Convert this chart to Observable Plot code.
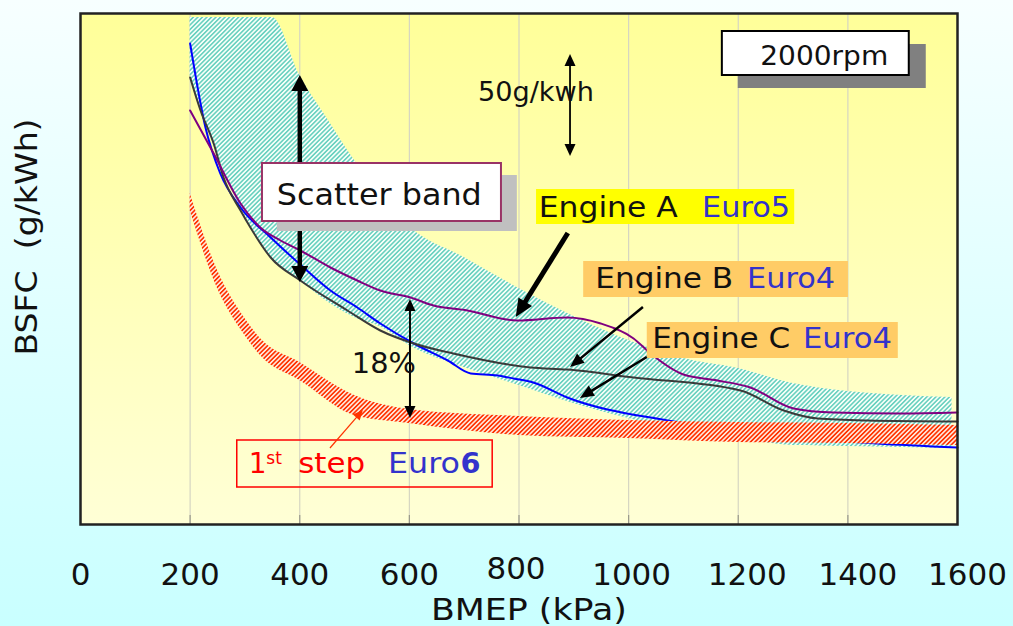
<!DOCTYPE html>
<html>
<head>
<meta charset="utf-8">
<script src="https://cdn.jsdelivr.net/npm/d3@7"></script>
<script src="https://cdn.jsdelivr.net/npm/@observablehq/plot@0.6"></script>
<style>
  html, body { margin: 0; padding: 0; width: 1013px; height: 626px; overflow: hidden;
    background: linear-gradient(to bottom, #F7FFFF, #C9FFFF); }
  #chart svg { display: block; }
</style>
</head>
<body>
<div id="chart"></div>
<script>
// ---------------- data (BMEP in kPa, BSFC in g/kWh) ----------------
const xTicks = [0, 200, 400, 600, 800, 1000, 1200, 1400, 1600];
const gridBmep = [200, 400, 600, 800, 1000, 1200, 1400];

// scatter band (teal hatch)
const bandBmep = [200, 250, 300, 350, 400, 450, 500, 550, 600, 700, 800, 900, 1000, 1100, 1200, 1300, 1400, 1500, 1590];
const bandLow  = [404.5, 364.5, 334.5, 313, 302, 291.5, 283.5, 278.5, 269.5, 258.5, 249.5, 240.5, 233, 227, 223, 219.5, 219, 218.5, 218];
const bandHigh = [433.5, 433.5, 433.5, 433.5, 404.5, 383, 362, 344.5, 329, 313.5, 298, 284, 272, 263, 258, 250.5, 246.5, 244.5, 243.5];

// 1st step Euro6 target band (red hatch)
const euro6Bmep = [200, 250, 300, 330, 400, 500, 600, 800, 1000, 1200, 1400, 1600];
const euro6High = [345.5, 307, 283, 272.5, 261, 244.5, 237.5, 234, 232, 231, 230.5, 229.5];
const euro6Low  = [337, 298, 274.5, 264, 252, 234.5, 230.5, 224.5, 223, 221, 220.5, 219.5];

// Engine A (Euro5) - purple
const engineABmep = [200, 243, 292, 328, 365, 401, 456, 505, 547, 602, 644, 706, 797, 888, 949, 1009, 1040, 1100, 1162, 1222, 1301, 1374, 1496, 1600];
const engineABsfc = [387, 365.5, 340.5, 328.5, 322, 317, 308.5, 302, 297, 293.5, 289.5, 287, 282, 283.5, 280.5, 273, 265.5, 255, 252, 248.5, 238, 236, 235.5, 236];

// Engine B (Euro4) - dark grey
const engineBBmep = [200, 219, 243, 261, 292, 310, 347, 401, 487, 547, 608, 680, 821, 888, 1009, 1204, 1283, 1345, 1436, 1600];
const engineBBsfc = [403.5, 387, 370.5, 353.5, 337, 328.5, 313.5, 302, 287, 277, 270.5, 265.5, 258.5, 257.5, 253.5, 247, 237, 233, 232, 231.5];

// Engine C (Euro4) - blue
const engineCBmep = [200, 228, 255, 292, 347, 407, 456, 505, 547, 608, 670, 712, 761, 790, 826, 888, 1071, 1277, 1454, 1600];
const engineCBsfc = [420.5, 378.5, 355.5, 338.5, 323.5, 308.5, 297, 288.5, 280.5, 270.5, 262, 255.5, 254.5, 253, 251, 243.5, 232, 224.5, 220.5, 218.5];

// ---------------- tables built from the arrays ----------------
const bandRows = bandBmep.map((b, i) => ({bmep: b, lo: bandLow[i], hi: bandHigh[i]}));
const euro6Rows = euro6Bmep.map((b, i) => ({bmep: b, lo: euro6Low[i], hi: euro6High[i]}));
const rows = (xs, ys) => xs.map((b, i) => ({bmep: b, bsfc: ys[i]}));
const engineA = rows(engineABmep, engineABsfc);
const engineB = rows(engineBBmep, engineBBsfc);
const engineC = rows(engineCBmep, engineCBsfc);

const FONT = "DejaVu Sans, Verdana, sans-serif";
const BLUE_TXT = "#3333CC";

// ---------------- annotation layer (uses the plot's scales) ----------------
function annotations(index, scales) {
  const {x, y} = scales;
  const g = d3.create("svg:g").attr("font-family", FONT);
  const defs = g.append("defs");
  const lg = defs.append("linearGradient").attr("id", "plotBg")
    .attr("x1", 0).attr("y1", 0).attr("x2", 0).attr("y2", 1);
  lg.append("stop").attr("offset", 0).attr("stop-color", "#FFFF99");
  lg.append("stop").attr("offset", 0.55).attr("stop-color", "#FFFFBB");
  lg.append("stop").attr("offset", 1).attr("stop-color", "#FFFFD6");
  const hatch = (id, color, bg, w, s) => {
    const p = defs.append("pattern").attr("id", id).attr("patternUnits", "userSpaceOnUse")
      .attr("width", s).attr("height", s).attr("patternTransform", "rotate(45)");
    p.append("rect").attr("width", s).attr("height", s).attr("fill", bg);
    p.append("line").attr("x1", s / 2).attr("y1", 0).attr("x2", s / 2).attr("y2", s)
      .attr("stroke", color).attr("stroke-width", w);
  };
  hatch("hatchTeal", "#3CC2AE", "#F6FFF8", 1.2, 3.2);
  hatch("hatchRed", "#FF3300", "#FFF2E8", 1.7, 3.2);

  const P = (a, b) => [x(a), y(b)];
  const box = (a1, b1, a2, b2, fill, stroke, sw) => {
    const [p1, q1] = P(a1, b1), [p2, q2] = P(a2, b2);
    g.append("rect").attr("x", Math.min(p1, p2)).attr("y", Math.min(q1, q2))
      .attr("width", Math.abs(p2 - p1)).attr("height", Math.abs(q2 - q1))
      .attr("fill", fill).attr("stroke", stroke || "none").attr("stroke-width", sw || 0);
  };
  const text = (a, b, s, o) => {
    const [px, py] = P(a, b);
    const t = g.append("text").attr("x", px).attr("y", py).text(s)
      .attr("font-size", o.size).attr("fill", o.fill || "#111")
      .attr("text-anchor", o.anchor || "start")
      .style("white-space", "pre");
    if (o.weight) t.attr("font-weight", o.weight);
    if (o.len) t.attr("textLength", o.len).attr("lengthAdjust", "spacingAndGlyphs");
    return t;
  };
  const arrow = (a1, b1, a2, b2, o) => {
    const [x1, y1] = P(a1, b1), [x2, y2] = P(a2, b2);
    const dx = x2 - x1, dy = y2 - y1, L = Math.hypot(dx, dy), ux = dx / L, uy = dy / L;
    const nx = -uy, ny = ux, hl = o.hl, hw = o.hw / 2;
    const sx = o.both ? x1 + ux * hl * 0.8 : x1, sy = o.both ? y1 + uy * hl * 0.8 : y1;
    const ex = x2 - ux * hl * 0.8, ey = y2 - uy * hl * 0.8;
    g.append("line").attr("x1", sx).attr("y1", sy).attr("x2", ex).attr("y2", ey)
      .attr("stroke", o.color).attr("stroke-width", o.w);
    const head = (tx, ty, vx, vy) =>
      `M${tx},${ty}L${tx - vx * hl + nx * hw},${ty - vy * hl + ny * hw}L${tx - vx * hl - nx * hw},${ty - vy * hl - ny * hw}Z`;
    g.append("path").attr("d", head(x2, y2, ux, uy)).attr("fill", o.color);
    if (o.both) g.append("path").attr("d", head(x1, y1, -ux, -uy)).attr("fill", o.color);
  };

  // Scatter band: thick double arrow then label box
  arrow(401, 404.5, 401, 301, {w: 4.5, hl: 16, hw: 17, color: "#000", both: true});
  box(359, 354.5, 797, 326.5, "#C0C0C0");
  box(332, 360.5, 768, 331.5, "#FFFFFF", "#993366", 2);
  text(359, 339.5, "Scatter band", {size: 30, len: 205});

  // 2000rpm
  box(1200, 420, 1543, 398, "#808080");
  box(1171, 426.5, 1512, 404.5, "#FFFFFF", "#000", 2);
  text(1241, 409.5, "2000rpm", {size: 26, len: 128});

  // 50 g/kWh scale arrow
  arrow(894, 415, 894, 364, {w: 1.8, hl: 12, hw: 11, color: "#000", both: true});
  text(726, 391.5, "50g/kwh", {size: 26, len: 116});

  // Engine A
  box(832, 347.5, 1303, 330, "#FFFF00");
  text(837, 333.5, "Engine A", {size: 28, len: 139});
  text(1135, 333.5, "Euro5", {size: 28, len: 88, fill: BLUE_TXT});
  arrow(890, 325.5, 795, 283.5, {w: 5, hl: 18, hw: 16, color: "#000"});

  // Engine B
  box(918, 311.5, 1401, 293.5, "#FFCC66");
  text(940, 298, "Engine B", {size: 28, len: 138});
  text(1217, 298, "Euro4", {size: 28, len: 88, fill: BLUE_TXT});
  arrow(1027, 288.5, 894, 258.5, {w: 2.5, hl: 14, hw: 12, color: "#000"});

  // Engine C
  box(1034, 281, 1492, 263, "#FFCC66");
  text(1044, 268, "Engine C", {size: 28, len: 138});
  text(1319, 268, "Euro4", {size: 28, len: 89, fill: BLUE_TXT});
  arrow(1034, 263.5, 912, 243, {w: 2.5, hl: 14, hw: 12, color: "#000"});

  // 18 %
  arrow(602, 292.5, 602, 233, {w: 2, hl: 12, hw: 11, color: "#000", both: true});
  text(496, 255.5, "18%", {size: 29, len: 64});

  // 1st step Euro6
  box(286, 222, 752, 198.5, "none", "#FF0000", 1.5);
  text(308, 205.5, "1", {size: 28, fill: "#FF0000"});
  text(340, 210, "st", {size: 17, fill: "#FF0000"});
  text(398, 205.5, "step", {size: 28, len: 67, fill: "#FF0000"});
  text(562, 205.5, "Euro", {size: 28, len: 72, fill: BLUE_TXT});
  text(694, 205.5, "6", {size: 28, len: 20, fill: BLUE_TXT, weight: "bold"});
  arrow(456, 218, 516, 237, {w: 1.2, hl: 10, hw: 9, color: "#FF3300"});

  // axis titles
  const [tx, ty] = P(-97, 323.5);
  g.append("text").attr("transform", `translate(${tx},${ty}) rotate(-90)`)
    .attr("text-anchor", "middle").attr("dominant-baseline", "central")
    .attr("font-size", 30).attr("fill", "#111").style("white-space", "pre")
    .attr("textLength", 237).attr("lengthAdjust", "spacingAndGlyphs")
    .text("BSFC  (g/kWh)");
  text(819, 132, "BMEP (kPa)", {size: 30, len: 196, anchor: "middle"});

  return g.node();
}

// ---------------- plot ----------------
const svg = Plot.plot({
  width: 1013,
  height: 626,
  marginLeft: 80,
  marginRight: 56,
  marginTop: 13,
  marginBottom: 102,
  x: {domain: [0, 1600], label: null},
  y: {domain: [180, 435.5], axis: null, label: null},
  style: {fontFamily: FONT, background: "transparent", overflow: "visible"},
  marks: [
    Plot.frame({fill: "url(#plotBg)", stroke: "none"}),
    Plot.ruleX(gridBmep, {stroke: "#D6D6C2", strokeWidth: 1.2}),
    Plot.ruleX(gridBmep, {y1: 180, y2: 184.5, stroke: "#9A9A8A", strokeWidth: 1.2}),
    Plot.areaY(bandRows, {x: "bmep", y1: "lo", y2: "hi", fill: "url(#hatchTeal)", curve: "monotone-x"}),
    Plot.line(engineC, {x: "bmep", y: "bsfc", stroke: "#0000FF", strokeWidth: 2, curve: "monotone-x"}),
    Plot.line(engineB, {x: "bmep", y: "bsfc", stroke: "#3A3A3A", strokeWidth: 2, curve: "monotone-x"}),
    Plot.line(engineA, {x: "bmep", y: "bsfc", stroke: "#800080", strokeWidth: 2, curve: "monotone-x"}),
    Plot.areaY(euro6Rows, {x: "bmep", y1: "lo", y2: "hi", fill: "url(#hatchRed)", curve: "monotone-x"}),
    Plot.frame({stroke: "#222", strokeWidth: 2.5}),
    Plot.axisX({ticks: xTicks, tickSize: 0, tickPadding: 38, fontSize: 31, tickFormat: d => `${d}`, label: null, fill: "#111"}),
    annotations
  ]
});
document.getElementById("chart").appendChild(svg);

// small nudges of tick labels as in the original slide
const nudge = {"800": [-3, -6], "1000": [3, 0], "1200": [9, 0], "1400": [10, 0], "1600": [10, 0]};
svg.querySelectorAll('g[aria-label="x-axis tick label"] text').forEach(t => {
  const n = nudge[t.textContent];
  if (n) t.setAttribute("transform", (t.getAttribute("transform") || "") + ` translate(${n[0]},${n[1]})`);
});
</script>
</body>
</html>
